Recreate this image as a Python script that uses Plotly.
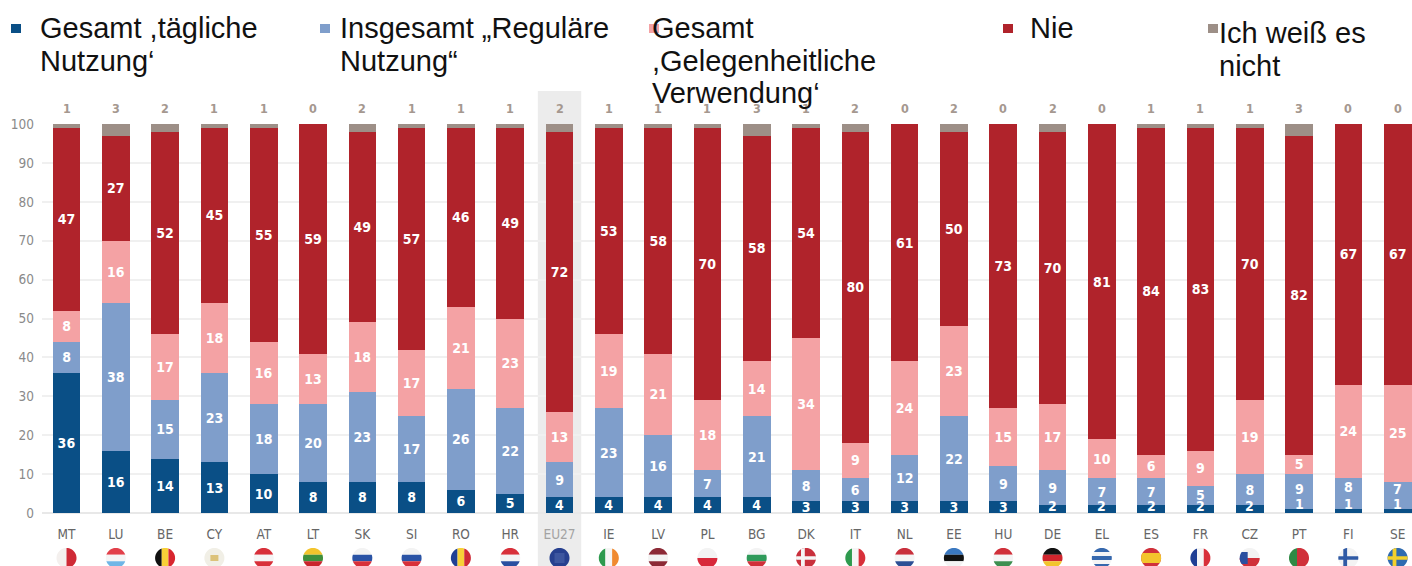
import math
import plotly.graph_objects as go

categories = ["MT","LU","BE","CY","AT","LT","SK","SI","RO","HR","EU27","IE","LV","PL","BG","DK","IT","NL","EE","HU","DE","EL","ES","FR","CZ","PT","FI","SE"]
daily =      [36,16,14,13,10,8,8,8,6,5,4,4,4,4,4,3,3,3,3,3,2,2,2,2,2,1,1,1]
regular =    [8,38,15,23,18,20,23,17,26,22,9,23,16,7,21,8,6,12,22,9,9,7,7,5,8,9,8,7]
occasional = [8,16,17,18,16,13,18,17,21,23,13,19,21,18,14,34,9,24,23,15,17,10,6,9,19,5,24,25]
never =      [47,27,52,45,55,59,49,57,46,49,72,53,58,70,58,54,80,61,50,73,70,81,84,83,70,82,67,67]
dont_know =  [1,3,2,1,1,0,2,1,1,1,2,1,1,1,3,1,2,0,2,0,2,0,1,1,1,3,0,0]

C_DAILY, C_REG, C_OCC, C_NEVER, C_DK = "#0a4f86", "#7f9ecb", "#f4a2a4", "#b0232b", "#9d8f87"
COND = "DejaVu Sans Condensed, DejaVu Sans"
W, H = 1412, 566
L, T, B = 42, 124, 53
plot_w, plot_h = W - L, H - T - B
def pxp(x): return (x - L) / plot_w
def pyp(y): return (H - B - y) / plot_h

def bar_labels(vals, keep):
    return [str(a) if k else "" for a, k in zip(vals, keep)]

series = [("Gesamt daily", daily, C_DAILY, bar_labels(daily, [d > 2 for d in daily])),
          ("Regular", regular, C_REG, bar_labels(regular, [d > 1 for d in daily])),
          ("Occasional", occasional, C_OCC, bar_labels(occasional, [True] * len(occasional))),
          ("Nie", never, C_NEVER, bar_labels(never, [True] * len(never))),
          ("Weiß nicht", dont_know, C_DK, None)]
fig = go.Figure()
for name, vals, col, labels in series:
    fig.add_trace(go.Bar(
        x=categories, y=vals, name=name, marker=dict(color=col, line=dict(width=0)),
        text=labels,
        textposition="inside" if labels else "none", insidetextanchor="middle",
        textangle=0, constraintext="none", cliponaxis=False,
        insidetextfont=dict(family=COND, size=14, color="white", weight="bold"),
        showlegend=False, hoverinfo="skip"))

annotations = []
label_font = dict(family=COND, size=14, color="white", weight="bold")
for c, a in zip(categories, dont_know):
    annotations.append(dict(x=c, y=100, xref="x", yref="y", text=str(a), showarrow=False, yshift=16,
                            font=dict(family=COND, size=12.5, color="#a5988f", weight="bold")))
# labels of the thinnest segments sit just above the segment's middle
for c, d, r in zip(categories, daily, regular):
    if d <= 2:
        annotations.append(dict(x=c, y=d / 2, xref="x", yref="y", text=str(d), showarrow=False,
                                yshift=3 if d == 2 else 7, font=label_font))
    if d <= 1:
        annotations.append(dict(x=c, y=d + r / 2, xref="x", yref="y", text=str(r), showarrow=False,
                                yshift=3 if r == 9 else 7, font=label_font))

legend_entries = [
    (["Gesamt ,tägliche", "Nutzung‘"], C_DAILY, 11, 38, [28, 61]),
    (["Insgesamt „Reguläre", "Nutzung“"], C_REG, 320, 338, [28, 61]),
    (["Gesamt", ",Gelegenheitliche", "Verwendung‘"], C_OCC, 649, 650, [28, 61, 93]),
    (["Nie"], C_NEVER, 1003, 1028, [28]),
    (["Ich weiß es", "nicht"], C_DK, 1208, 1217, [33, 66]),
]
shapes = []
i_eu = categories.index("EU27")
shapes.append(dict(type="rect", xref="x", yref="paper", x0=i_eu - 0.44, x1=i_eu + 0.44,
                   y0=pyp(566), y1=pyp(91), fillcolor="#ececec", line=dict(width=0), layer="below"))
for lines, col, mx, tx, ys in legend_entries:
    shapes.append(dict(type="rect", xref="paper", yref="paper", x0=pxp(mx), x1=pxp(mx + 10),
                       y0=pyp(33), y1=pyp(24), fillcolor=col, line=dict(width=0), layer="above"))
    for line, y in zip(lines, ys):
        annotations.append(dict(x=pxp(tx), y=pyp(y), xref="paper", yref="paper", text=line, showarrow=False,
                                xanchor="left", yanchor="middle",
                                font=dict(family="Liberation Sans", size=29, color="#111111")))

# ---- round flag icons under the tick labels
def h(*cols):
    n = len(cols)
    return [(-1, 1, 1 - 2 * (k + 1) / n, 1 - 2 * k / n, c) for k, c in enumerate(cols)]
def v(*cols):
    n = len(cols)
    return [(-1 + 2 * k / n, -1 + 2 * (k + 1) / n, -1, 1, c) for k, c in enumerate(cols)]
def cross(bg, fg):
    return [(-1, 1, -1, 1, bg), (-0.5, -0.12, -1, 1, fg), (-1, 1, -0.18, 0.18, fg)]
flags = {
    "MT": v("#f4f0ee", "#cf2a36"), "LU": h("#e2404a", "#f5f5f5", "#6fb6e6"), "BE": v("#111111", "#f7d038", "#d8262f"),
    "CY": [(-1, 1, -1, 1, "#f1efe6"), (-0.4, 0.4, -0.3, 0.3, "#dcc27a")],
    "AT": h("#d8303a", "#f5f5f5", "#d8303a"), "LT": h("#f3c42c", "#3f8f3c", "#c9252d"),
    "SK": h("#f3f3f3", "#2a53a5", "#d8303a"), "SI": h("#f3f3f3", "#2a53a5", "#d8303a"),
    "RO": v("#1f3f94", "#f7d038", "#cf2a36"), "HR": h("#d8303a", "#f3f3f3", "#2a4fa0"),
    "EU27": [(-1, 1, -1, 1, "#27408f"), (-0.5, 0.5, -0.5, 0.5, "#3d569f")],
    "IE": v("#2e9a4e", "#f5f5f5", "#f08a30"), "LV": h("#8c2a36", "#f3f3f3", "#8c2a36"),
    "PL": h("#f3f3f3", "#d8283a"), "BG": h("#f3f3f3", "#2f9a5a", "#d0303a"),
    "DK": cross("#c9303c", "#f5f5f5"), "IT": v("#2e9a4e", "#f5f5f5", "#d8303a"),
    "NL": h("#c9303c", "#f5f5f5", "#2c4f95"), "EE": h("#3a78c0", "#111111", "#f3f3f3"),
    "HU": h("#d0303a", "#f5f5f5", "#3d8f50"), "DE": h("#111111", "#d0252d", "#f2c42c"),
    "EL": h("#3668ad", "#f5f5f5", "#3668ad", "#f5f5f5", "#3668ad"),
    "ES": [(-1, 1, -1, 1, "#d0303a"), (-1, 1, -0.5, 0.5, "#f3c42c")],
    "FR": v("#1f3f94", "#f5f5f5", "#d8303a"),
    "CZ": [(-1, 1, 0, 1, "#f3f3f3"), (-1, 1, -1, 0, "#d0303a"), (-1, -0.2, -0.6, 0.6, "#2a4fa0")],
    "PT": [(-1, -0.2, -1, 1, "#2f8a45"), (-0.2, 1, -1, 1, "#d0303a")],
    "FI": cross("#f3f3f3", "#2f5aa5"), "SE": cross("#2f6bb0", "#f3d02c"),
}
CIRCLE = [(math.cos(2 * math.pi * k / 48), math.sin(2 * math.pi * k / 48)) for k in range(48)]
def clip(poly, x0, x1, y0, y1):
    def run(p, inside, cut):
        out = []
        for a, b in zip(p, p[1:] + p[:1]):
            if inside(a):
                out.append(a)
            if inside(a) != inside(b):
                out.append(cut(a, b))
        return out
    def atx(xc): return lambda a, b: (xc, a[1] + (b[1] - a[1]) * (xc - a[0]) / (b[0] - a[0]))
    def aty(yc): return lambda a, b: (a[0] + (b[0] - a[0]) * (yc - a[1]) / (b[1] - a[1]), yc)
    for ins, c in [(lambda q: q[0] >= x0, atx(x0)), (lambda q: q[0] <= x1, atx(x1)),
                   (lambda q: q[1] >= y0, aty(y0)), (lambda q: q[1] <= y1, aty(y1))]:
        if not poly:
            break
        poly = run(poly, ins, c)
    return poly

CAT_STEP = 49.3
for idx, c in enumerate(categories):
    cx = 66.5 + CAT_STEP * idx
    for x0, x1, y0, y1, col in flags[c]:
        poly = clip(CIRCLE, x0, x1, y0, y1)
        if len(poly) < 3:
            continue
        d = "M " + " L ".join(f"{pxp(cx + 10 * a):.5f},{pyp(558 - 10 * b):.5f}" for a, b in poly) + " Z"
        shapes.append(dict(type="path", xref="paper", yref="paper", path=d, fillcolor=col, line=dict(width=0), layer="above"))

tick_text = [f'<span style="color:#a3a3a3">{c}</span>' if c == "EU27" else c for c in categories]
fig.update_layout(
    barmode="stack", bargap=0.44, width=W, height=H, autosize=False,
    margin=dict(l=L, r=0, t=T, b=B, pad=0), plot_bgcolor="rgba(0,0,0,0)", paper_bgcolor="white",
    shapes=shapes, annotations=annotations,
    xaxis=dict(type="category", categoryorder="array", categoryarray=categories,
               tickmode="array", tickvals=categories, ticktext=tick_text, range=[-0.497, 27.29],
               showgrid=False, ticks="", showline=False, zeroline=False, ticklabelstandoff=11,
               tickfont=dict(family=COND, size=13.5, color="#666666")),
    yaxis=dict(range=[0, 100], dtick=10, gridcolor="#f0f0f0", gridwidth=1.5, zeroline=True, zerolinecolor="#e8e8e8",
               zerolinewidth=1.5, ticks="", showline=False, ticklabelstandoff=7,
               tickfont=dict(family=COND, size=13.5, color="#8a8a8a")),
)
fig.write_html("out.html", config={"displayModeBar": False}, post_script="document.body.style.margin='0';")
